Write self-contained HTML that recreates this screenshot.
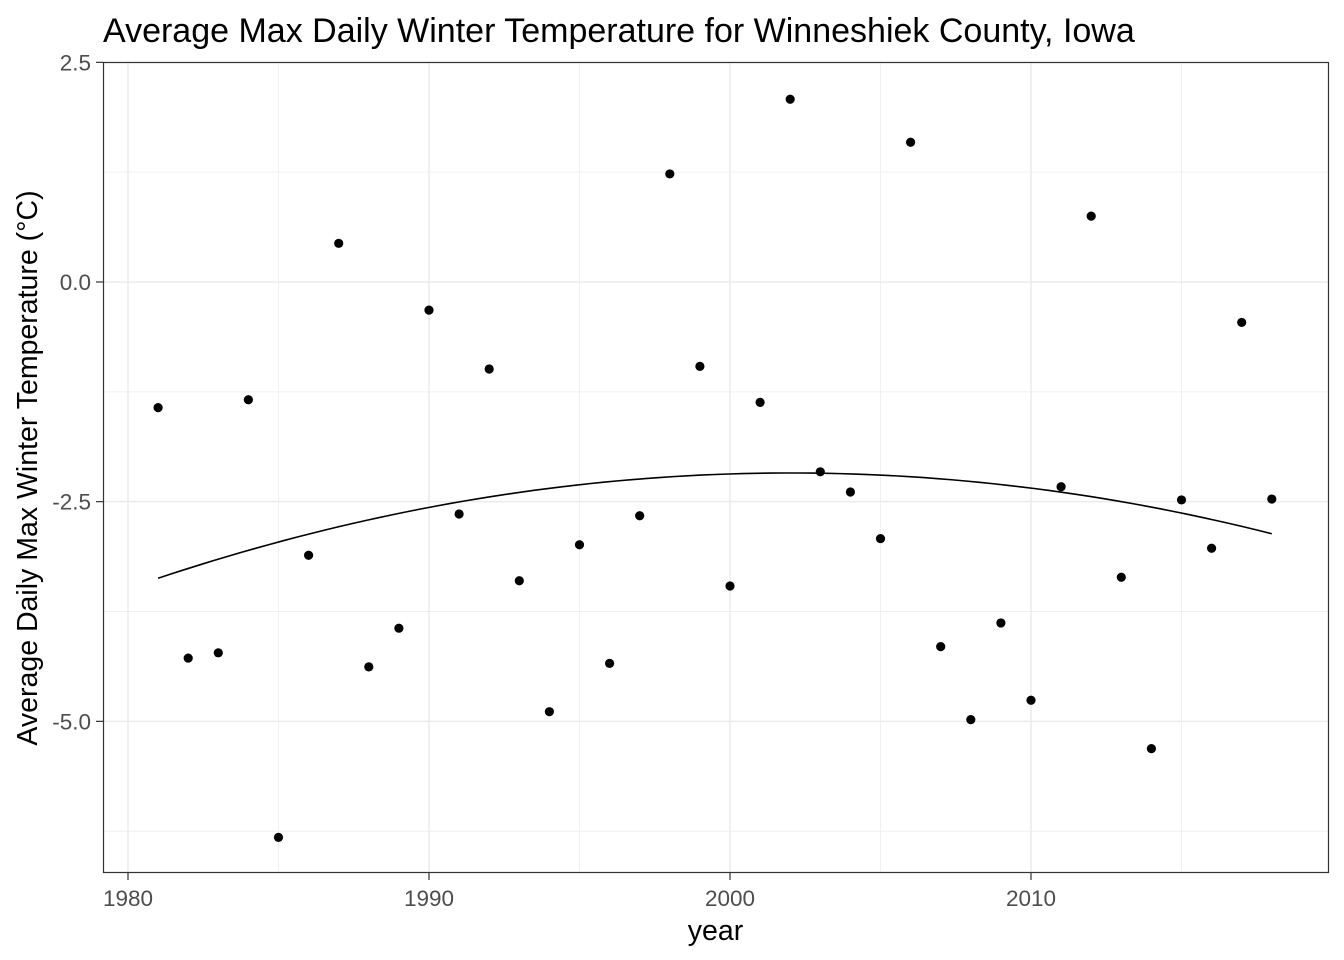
<!DOCTYPE html>
<html><head><meta charset="utf-8"><style>
html,body{margin:0;padding:0;background:#fff;}
svg{display:block;font-family:"Liberation Sans",Arial,sans-serif;}
</style></head><body>
<svg id="chart" width="1344" height="960" viewBox="0 0 1344 960">
<text x="103" y="42" style="font-size:34px" fill="#000">Average Max Daily Winter Temperature for Winneshiek County, Iowa</text>
<g id="grid"></g>
<g id="marks"></g>
<rect x="103.5" y="62.5" width="1225" height="810" fill="none" stroke="#333" stroke-width="1.2"/>
<g id="axes"></g>
<text x="715.5" y="940" style="font-size:28.5px" text-anchor="middle" fill="#000">year</text>
<text transform="translate(37,468) rotate(-90)" style="font-size:28.5px" text-anchor="middle" fill="#000">Average Daily Max Winter Temperature (°C)</text>
</svg>
<script>
const years = [1981,1982,1983,1984,1985,1986,1987,1988,1989,1990,1991,1992,1993,1994,1995,1996,1997,1998,1999,2000,2001,2002,2003,2004,2005,2006,2007,2008,2009,2010,2011,2012,2013,2014,2015,2016,2017,2018];
const temps = [-1.43,-4.28,-4.22,-1.34,-6.32,-3.11,0.44,-4.38,-3.94,-0.32,-2.64,-0.99,-3.40,-4.89,-2.99,-4.34,-2.66,1.23,-0.96,-3.46,-1.37,2.08,-2.16,-2.39,-2.92,1.59,-4.15,-4.98,-3.88,-4.76,-2.33,0.75,-3.36,-5.31,-2.48,-3.03,-0.46,-2.47];
const xTicks = [1980,1990,2000,2010];
const xMinor = [1985,1995,2005,2015];
const yTicks = [2.5,0,-2.5,-5];
const yTickLabels = ["2.5","0.0","-2.5","-5.0"];
const yMinor = [1.25,-1.25,-3.75,-6.25];

const NS="http://www.w3.org/2000/svg";
const xs = v => 128 + (v-1980)*30.1;
const ys = v => 282 - v*87.87;
function mk(tag, attrs, parent){const e=document.createElementNS(NS,tag);for(const k in attrs)e.setAttribute(k,attrs[k]);parent.appendChild(e);return e;}
const grid=document.getElementById('grid'), marks=document.getElementById('marks'), axes=document.getElementById('axes');
xMinor.forEach(v=>{const l=mk('line',{x1:xs(v),x2:xs(v),y1:62,y2:873,stroke:'#f0f0f0','stroke-width':1},grid);

});
yMinor.forEach(v=>{const l=mk('line',{x1:103,x2:1328,y1:ys(v),y2:ys(v),stroke:'#f0f0f0','stroke-width':1},grid);

});
xTicks.forEach(v=>{const l=mk('line',{x1:xs(v),x2:xs(v),y1:62,y2:873,stroke:'#ebebeb','stroke-width':1.5},grid);


const t=mk('line',{x1:xs(v),x2:xs(v),y1:873,y2:880,stroke:'#333','stroke-width':1.2},axes);


const tx=mk('text',{x:xs(v),y:906,style:'font-size:22.5px','text-anchor':'middle',fill:'#4d4d4d'},axes);tx.textContent=v;

});
yTicks.forEach((v,i)=>{const l=mk('line',{x1:103,x2:1328,y1:ys(v),y2:ys(v),stroke:'#ebebeb','stroke-width':1.5},grid);


const t=mk('line',{x1:96,x2:103,y1:ys(v),y2:ys(v),stroke:'#333','stroke-width':1.2},axes);


const tx=mk('text',{x:91,y:ys(v)+8,style:'font-size:22.5px','text-anchor':'end',fill:'#4d4d4d'},axes);tx.textContent=yTickLabels[i];

});
years.forEach((yr,i)=>{const c=mk('circle',{cx:xs(yr),cy:ys(temps[i]),r:4.6,fill:'#000'},marks);

});
(function(){const n=years.length,m=years.reduce((a,b)=>a+b,0)/n;
let S=[0,0,0,0,0],T=[0,0,0];
years.forEach((yr,i)=>{const x=yr-m;for(let k=0;k<5;k++)S[k]+=Math.pow(x,k);for(let k=0;k<3;k++)T[k]+=temps[i]*Math.pow(x,k);});
const A=[[S[0],S[1],S[2],T[0]],[S[1],S[2],S[3],T[1]],[S[2],S[3],S[4],T[2]]];
for(let i=0;i<3;i++){for(let j=i+1;j<3;j++){const f=A[j][i]/A[i][i];for(let k=i;k<4;k++)A[j][k]-=f*A[i][k];}}
const b=[0,0,0];for(let i=2;i>=0;i--){let s=A[i][3];for(let k=i+1;k<3;k++)s-=A[i][k]*b[k];b[i]=s/A[i][i];}
let d='';const y0=years[0],y1=years[n-1];
for(let s=0;s<=80;s++){const yr=y0+(y1-y0)*s/80,x=yr-m,v=b[0]+b[1]*x+b[2]*x*x;d+=(s?'L':'M')+xs(yr).toFixed(2)+','+ys(v).toFixed(2);}
const p=mk('path',{d:d,fill:'none',stroke:'#000','stroke-width':1.6},marks);

})();
</script>
</body></html>
